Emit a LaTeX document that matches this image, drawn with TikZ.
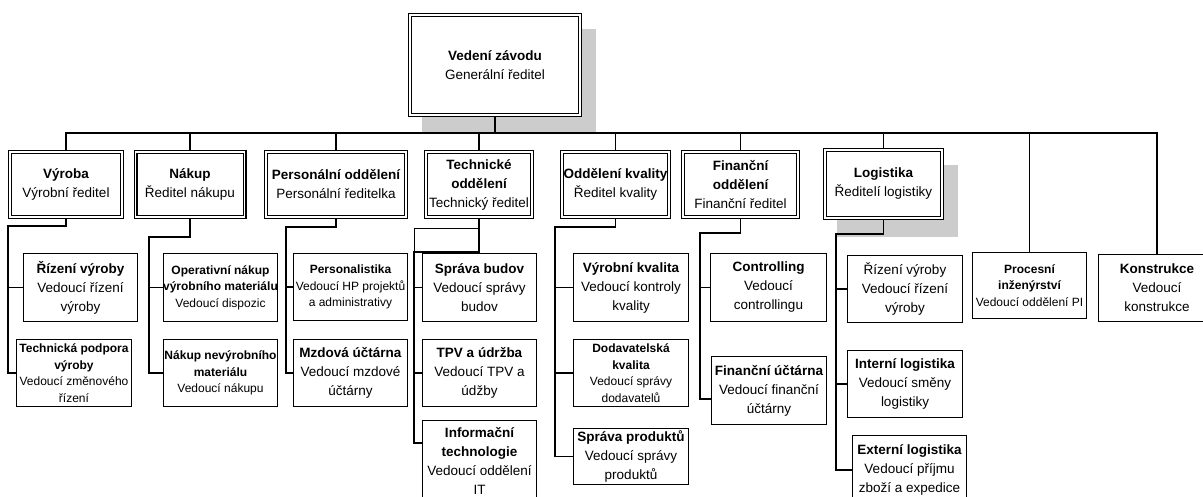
\documentclass[tikz,border=0pt]{standalone}
\usepackage{fontspec}
\setmainfont{Liberation Sans}
\usetikzlibrary{calc}
\pgfdeclarelayer{shadow}
\pgfsetlayers{shadow,main}
\begin{document}
\begin{tikzpicture}[x=1pt,y=-1pt,
  every node/.style={inner sep=0pt, align=center},
  mainbox/.style={draw, line width=1.2pt, double, double distance=1.6pt,
    fill=white, outer sep=2pt, font=\fontsize{13.5}{19}\selectfont},
  unitbox/.style={draw, line width=1.1pt, fill=white,
    font=\fontsize{13.5}{19}\selectfont},
  smalltext/.style={font=\fontsize{12}{16.5}\selectfont},
  link/.style={line width=1.4pt},
  thinlink/.style={line width=0.9pt},
  shadowfill/.style={fill=black!20}
]
\useasboundingbox (0,0) rectangle (1203,497);

% ---- management ----
\node[mainbox, minimum width=170pt, minimum height=100pt] (top) at (495,65)
  {{\bfseries Vedení závodu}\\Generální ředitel};

% ---- departments ----
\node[mainbox, minimum width=112pt, minimum height=65pt] (vyroba) at (66,184.5)
  {{\bfseries Výroba}\\Výrobní ředitel};
\node[mainbox, minimum width=109pt, minimum height=65pt] (nakup) at (190,184.5)
  {{\bfseries Nákup}\\Ředitel nákupu};
\node[mainbox, minimum width=140pt, minimum height=65pt] (personal) at (336,184.5)
  {{\bfseries Personální oddělení}\\Personální ředitelka};
\node[mainbox, minimum width=106pt, minimum height=65pt] (technicke) at (479,184.5)
  {{\bfseries Technické}\\{\bfseries oddělení}\\Technický ředitel};
\node[mainbox, minimum width=107pt, minimum height=65pt] (kvalita) at (615.5,184.5)
  {{\bfseries Oddělení kvality}\\Ředitel kvality};
\node[mainbox, minimum width=115pt, minimum height=65pt] (financni) at (740.5,184.5)
  {{\bfseries Finanční}\\{\bfseries oddělení}\\Finanční ředitel};
\node[mainbox, minimum width=117pt, minimum height=68pt] (logistika) at (883.5,184)
  {{\bfseries Logistika}\\Ředitelí logistiky};

% ---- units ----
\node[unitbox, minimum width=114pt, minimum height=68pt] (rizeniA) at (80.5,287.5)
  {{\bfseries Řízení výroby}\\Vedoucí řízení\\výroby};
\node[unitbox, smalltext, minimum width=115pt, minimum height=67pt] (podpora) at (74,373)
  {{\bfseries Technická podpora}\\{\bfseries výroby}\\Vedoucí změnového\\řízení};
\node[unitbox, smalltext, minimum width=114pt, minimum height=68pt] (operativni) at (220.5,287.5)
  {{\bfseries Operativní nákup}\\{\bfseries výrobního materiálu}\\Vedoucí dispozic};
\node[unitbox, smalltext, minimum width=114pt, minimum height=67pt] (nevyrobni) at (220.5,373)
  {{\bfseries Nákup nevýrobního}\\{\bfseries materiálu}\\Vedoucí nákupu};
\node[unitbox, smalltext, minimum width=114pt, minimum height=67pt] (personalistika) at (350.5,287)
  {{\bfseries Personalistika}\\Vedoucí HP projektů\\a administrativy};
\node[unitbox, minimum width=114pt, minimum height=67pt] (mzdova) at (350.5,373)
  {{\bfseries Mzdová účtárna}\\Vedoucí mzdové\\účtárny};
\node[unitbox, minimum width=114pt, minimum height=68pt] (budovy) at (479.5,287.5)
  {{\bfseries Správa budov}\\Vedoucí správy\\budov};
\node[unitbox, minimum width=114pt, minimum height=67pt] (tpv) at (479.5,373)
  {{\bfseries TPV a údržba}\\Vedoucí TPV a\\údžby};
\node[unitbox, minimum width=114pt, minimum height=81pt] (it) at (479.5,461)
  {{\bfseries Informační}\\{\bfseries technologie}\\Vedoucí oddělení\\IT};
\node[unitbox, minimum width=115pt, minimum height=68pt] (vyrkval) at (631,287.5)
  {{\bfseries Výrobní kvalita}\\Vedoucí kontroly\\kvality};
\node[unitbox, smalltext, minimum width=115pt, minimum height=67pt] (dodav) at (631,373)
  {{\bfseries Dodavatelská}\\{\bfseries kvalita}\\Vedoucí správy\\dodavatelů};
\node[unitbox, minimum width=115pt, minimum height=56pt] (produkty) at (631,456.5)
  {{\bfseries Správa produktů}\\Vedoucí správy\\produktů};
\node[unitbox, minimum width=116pt, minimum height=68pt] (controlling) at (768.5,287.5)
  {{\bfseries Controlling}\\Vedoucí\\controllingu};
\node[unitbox, minimum width=115pt, minimum height=68pt] (ucetni) at (769,390.5)
  {{\bfseries Finanční účtárna}\\Vedoucí finanční\\účtárny};
\node[unitbox, minimum width=115pt, minimum height=67pt] (rizeniB) at (905,289)
  {Řízení výroby\\Vedoucí řízení\\výroby};
\node[unitbox, minimum width=115pt, minimum height=67pt] (interni) at (905,384)
  {{\bfseries Interní logistika}\\Vedoucí směny\\logistiky};
\node[unitbox, minimum width=114pt, minimum height=69pt] (externi) at (909.5,470)
  {{\bfseries Externí logistika}\\Vedoucí příjmu\\zboží a expedice};
\node[unitbox, smalltext, minimum width=114pt, minimum height=66pt] (procesni) at (1029.5,285.5)
  {{\bfseries Procesní}\\{\bfseries inženýrství}\\Vedoucí oddělení PI};
\node[unitbox, minimum width=117pt, minimum height=67pt] (konstrukce) at (1157,288)
  {{\bfseries Konstrukce}\\Vedoucí\\konstrukce};

% ---- drop shadows ----
\begin{pgfonlayer}{shadow}
  \fill[shadowfill] ($(top.north west)+(14,16)$) rectangle ($(top.south east)+(14,16)$);
  \fill[shadowfill] ($(logistika.north west)+(14,17)$) rectangle ($(logistika.south east)+(14,17)$);
\end{pgfonlayer}

% ---- main bus ----
\coordinate (bus) at (0,133);
\draw[link] (top.south) -- (top.south |- bus);
\draw[link] (vyroba.north) -- (vyroba.north |- bus) -- (konstrukce.north |- bus) -- (konstrukce.north);
\foreach \d in {nakup,personal,technicke,kvalita,financni,logistika,procesni}
  \draw[link] (\d.north) -- (\d.north |- bus);

% ---- branch junctions ----
\coordinate (vyJ) at (8,226);
\coordinate (nkJ) at (149,237);
\coordinate (peJ) at (286,227);
\coordinate (teJ) at (414,252);
\coordinate (teL) at (414,228);
\coordinate (kvJ) at (555,227);
\coordinate (fiJ) at (700,233);
\coordinate (loJ) at (836,234);

% Výroba
\draw[link] (vyroba.south) |- (vyJ) |- (podpora.west);
\draw[link] (vyJ |- rizeniA.west) -- (rizeniA.west);
% Nákup
\draw[link] (nakup.south) |- (nkJ) |- (nevyrobni.west);
\draw[link] (nkJ |- operativni.west) -- (operativni.west);
% Personální oddělení
\draw[link] (personal.south) |- (peJ) |- (mzdova.west);
\draw[link] (peJ |- personalistika.west) -- (personalistika.west);
% Technické oddělení
\draw[thinlink] (technicke.south |- teL) -- (teL) -- (teJ);
\draw[link] (technicke.south) |- (teJ) |- ([yshift=18pt]it.west);
\draw[link] (teJ |- budovy.west) -- (budovy.west);
\draw[link] (teJ |- tpv.west) -- (tpv.west);
% Oddělení kvality
\draw[link] (kvalita.south) |- (kvJ) |- (produkty.west);
\draw[link] (kvJ |- vyrkval.west) -- (vyrkval.west);
\draw[link] (kvJ |- dodav.west) -- (dodav.west);
% Finanční oddělení
\draw[link] (financni.south) |- (fiJ) |- ([yshift=-8.5pt]ucetni.west);
\draw[link] (fiJ |- controlling.west) -- (controlling.west);
% Logistika
\draw[link] (logistika.south) |- (loJ) |- (externi.west);
\draw[link] (loJ |- rizeniB.west) -- (rizeniB.west);
\draw[link] (loJ |- interni.west) -- (interni.west);
\end{tikzpicture}
\end{document}
